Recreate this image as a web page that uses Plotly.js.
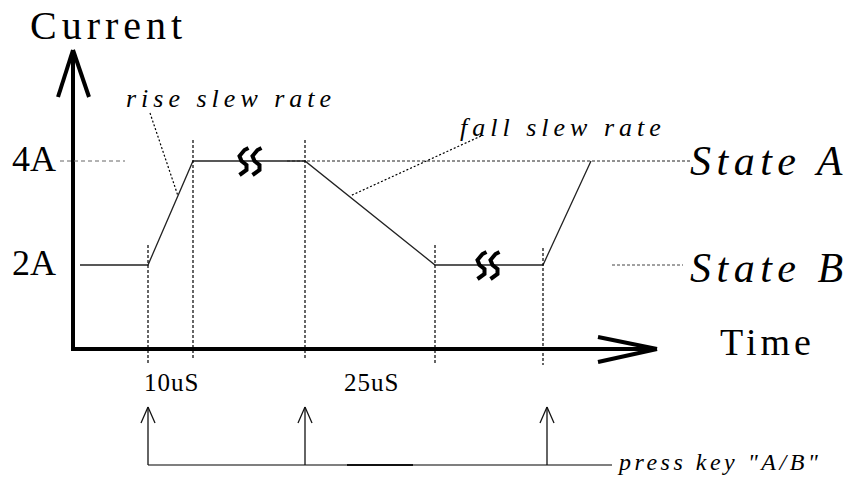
<!DOCTYPE html>
<html>
<head>
<meta charset="utf-8">
<script src="https://cdn.plot.ly/plotly-3.0.1.min.js"></script>
<style>
html,body{margin:0;padding:0;background:#fff;}
#chart{width:861px;height:478px;}
</style>
</head>
<body>
<div id="chart"></div>
<script>
// ---- data ----
const waveTime = [80, 148, 193, 305, 435, 543, 591];      // time positions of waveform corners
const waveCurrent = [2, 2, 4, 4, 2, 2, 4];                // current (A)
const levelValues = [4, 2];
const levelLabels = ['4A', '2A'];
const stateLabels = ['State A', 'State B'];
const markerTimes = [148, 193, 305, 435, 543];           // vertical dotted markers
const intervalLabels = ['10uS', '25uS'];
const keyPressTimes = [148, 305, 547];
const squiggleTimes = [250, 488];
const squiggleLevels = [4, 2];

// ---- helpers (pixel -> amp for decorations) ----
const Y0 = 369, S = 52;
const amp = p => (Y0 - p) / S;
const FONT = 'Liberation Serif, Times New Roman, serif';
const sp = (t, ls) => '<span style="letter-spacing:' + ls + 'px">' + t + '</span>';

const traces = [];
// waveform
traces.push({x: waveTime, y: waveCurrent, mode: 'lines', line: {color: '#222', width: 1.3}, hoverinfo: 'skip'});

// squiggles
const tpl = [[5,-13],[1,-11],[-4,-5],[-2,0],[3,4],[3,9],[-4,14]];
squiggleTimes.forEach((t, i) => {
  [-6.5, 6.5].forEach(off => {
    traces.push({
      x: tpl.map(d => t + off + d[0]),
      y: tpl.map(d => squiggleLevels[i] - d[1] / S),
      mode: 'lines', line: {color: '#000', width: 4, shape: 'linear'}, hoverinfo: 'skip'
    });
  });
});

const shapes = [];
const L = (x0, p0, x1, p1, w, color, dash) => shapes.push({type: 'line', xref: 'x', yref: 'y', x0: x0, y0: amp(p0), x1: x1, y1: amp(p1), line: {width: w, color: color, dash: dash || 'solid'}});

// axes with arrowheads
L(73, 50, 73, 351, 4, '#000');
L(73, 50, 58, 97, 4, '#000');
L(73, 50, 89, 97, 4, '#000');
L(71, 349, 656, 349, 4, '#000');
L(657, 349, 598, 337, 4, '#000');
L(657, 349, 598, 362, 4, '#000');

// level guide (4A)
shapes.push({type: 'line', xref: 'x', yref: 'y', x0: 60, x1: 125, y0: levelValues[0], y1: levelValues[0], line: {width: 1, color: '#666', dash: '4px,3px'}});
// State A guide
shapes.push({type: 'line', xref: 'x', yref: 'y', x0: 287, x1: 690, y0: levelValues[0], y1: levelValues[0], line: {width: 1, color: '#222', dash: '3px,2px'}});
// State B guide
shapes.push({type: 'line', xref: 'x', yref: 'y', x0: 612, x1: 683, y0: levelValues[1], y1: levelValues[1], line: {width: 1, color: '#444', dash: '3px,2px'}});

// vertical markers
const markTop = [245, 140, 140, 245, 248];
const markBot = [363, 358, 358, 363, 365];
markerTimes.forEach((t, i) => L(t, markTop[i], t, markBot[i], 1.2, '#000', '3px,2px'));

// leaders
L(150, 113, 178, 196, 1.2, '#000', '2px,2px');
L(481, 136, 350, 196, 1.2, '#000', '2px,2px');

// key press baseline and arrows
L(148, 465, 612, 465, 1.5, '#555');
L(347, 465, 413, 465, 2, '#111');
keyPressTimes.forEach(t => {
  L(t, 465, t, 407, 1.3, '#111');
  L(t, 407, t - 7, 423, 1.3, '#111');
  L(t, 407, t + 7, 423, 1.3, '#111');
});

const ann = [];
const A = (x, yv, text, size, opts) => ann.push(Object.assign({x: x, y: yv, xref: 'x', yref: 'y', text: text, showarrow: false, xanchor: 'left', yanchor: 'middle', borderpad: 0, font: {family: FONT, size: size, color: '#000'}}, opts || {}));

A(29, amp(25), sp('Current', 5), 40);
levelLabels.forEach((lab, i) => A(57, levelValues[i] + 0.03, lab, 36, {xanchor: 'right'}));
stateLabels.forEach((lab, i) => A(689, levelValues[i] - (i ? 0.06 : 0), '<i>' + sp(lab, 5.5) + '</i>', 42));
A(719, amp(342), sp('Time', 4), 38);
A(125, amp(98), '<i>' + sp('rise slew rate', 5) + '</i>', 26);
A(459, amp(127), '<i>' + sp('fall slew rate', 5) + '</i>', 26);
A(143, amp(382), sp(intervalLabels[0], 1), 25);
A(343, amp(382), sp(intervalLabels[1], 1), 25);
A(616, amp(462), '<i>' + sp('press key "A/B"', 3.5) + '</i>', 24);

const layout = {
  width: 861, height: 478,
  margin: {l: 0, r: 0, t: 0, b: 0},
  paper_bgcolor: '#fff', plot_bgcolor: '#fff',
  showlegend: false,
  xaxis: {range: [0, 861], visible: false, fixedrange: true},
  yaxis: {range: [amp(478), amp(0)], visible: false, fixedrange: true},
  shapes: shapes,
  annotations: ann
};
Plotly.newPlot('chart', traces, layout, {displayModeBar: false, staticPlot: true});
</script>
</body>
</html>
